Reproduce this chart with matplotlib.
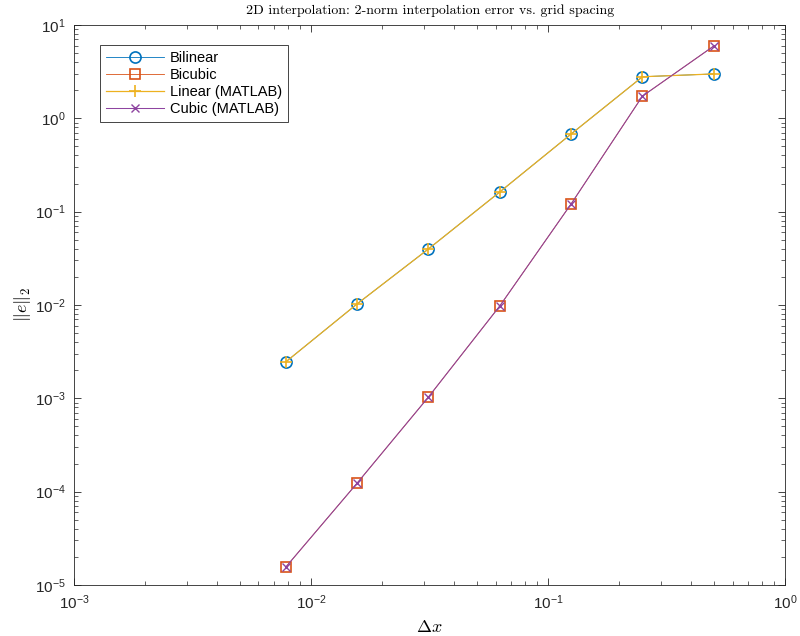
import numpy as np
import matplotlib
matplotlib.use('Agg')
import matplotlib.pyplot as plt
from matplotlib.ticker import LogLocator, LogFormatterSciNotation, NullFormatter

plt.rcParams['font.family'] = ['Liberation Sans', 'DejaVu Sans']

# grid spacing
dx = [0.5, 0.25, 0.125, 0.0625, 0.03125, 0.015625, 0.0078125]

# 2-norm errors
err_bilinear = [2.99, 2.79, 0.679, 0.1625, 0.0398, 0.01025, 0.00245]
err_bicubic = [5.96, 1.73, 0.121, 0.00975, 0.00103, 0.000123, 0.0000155]
err_linear = [2.99, 2.79, 0.679, 0.1625, 0.0398, 0.01025, 0.00245]
err_cubic = [5.96, 1.73, 0.121, 0.00975, 0.00103, 0.000123, 0.0000155]

labels = ['Bilinear', 'Bicubic', 'Linear (MATLAB)', 'Cubic (MATLAB)']

fig = plt.figure(figsize=(8.0, 6.36), dpi=100)
ax = fig.add_axes([0.0925, 0.0802, 0.889, 0.8805])

ax.loglog(dx, err_bilinear, '-o', color='#0072BD', lw=0.6, ms=8, mfc='none', mew=1.2, label=labels[0])
ax.loglog(dx, err_bicubic, '-s', color='#D95319', lw=0.6, ms=7, mfc='none', mew=1.2, label=labels[1])
ax.loglog(dx, err_linear, '-+', color='#EDB120', lw=0.9, ms=9, mew=1.2, label=labels[2])
ax.loglog(dx, err_cubic, '-x', color='#8E44A0', lw=0.75, ms=6, mew=1.0, label=labels[3])

ax.set_xlim(1e-3, 1)
ax.set_ylim(1e-5, 10)

ax.xaxis.set_major_locator(LogLocator(base=10, numticks=10))
ax.xaxis.set_minor_locator(LogLocator(base=10, subs=np.arange(2, 10), numticks=10))
ax.yaxis.set_major_locator(LogLocator(base=10, numticks=10))
ax.yaxis.set_minor_locator(LogLocator(base=10, subs=np.arange(2, 10), numticks=10))
ax.xaxis.set_major_formatter(LogFormatterSciNotation())
ax.yaxis.set_major_formatter(LogFormatterSciNotation())
ax.xaxis.set_minor_formatter(NullFormatter())
ax.yaxis.set_minor_formatter(NullFormatter())

axis_col = '#262626'
for sp in ax.spines.values():
    sp.set_color(axis_col)
    sp.set_linewidth(0.6)
ax.tick_params(which='both', direction='in', top=True, right=True, colors=axis_col, labelsize=11)
ax.tick_params(which='major', length=5, width=0.6, pad=6)
ax.tick_params(which='minor', length=3, width=0.5)

ax.set_title('2D interpolation: 2-norm interpolation error vs. grid spacing',
             fontfamily='cmr10', fontsize=10, color='black', pad=8)
ax.set_xlabel(r'$\Delta x$', math_fontfamily='cm', fontsize=13, color='black', labelpad=5)
ax.set_ylabel(r'$\|e\|_2$', math_fontfamily='cm', fontsize=13, color='black', labelpad=1)

leg = ax.legend(loc='upper left', bbox_to_anchor=(0.0366, 0.964), borderaxespad=0,
                fontsize=10.5, handlelength=4.0, handletextpad=0.4, labelspacing=0.2,
                borderpad=0.4, fancybox=False, framealpha=1, edgecolor=axis_col)
leg.get_frame().set_linewidth(0.6)

plt.savefig('out.png', dpi=100)
